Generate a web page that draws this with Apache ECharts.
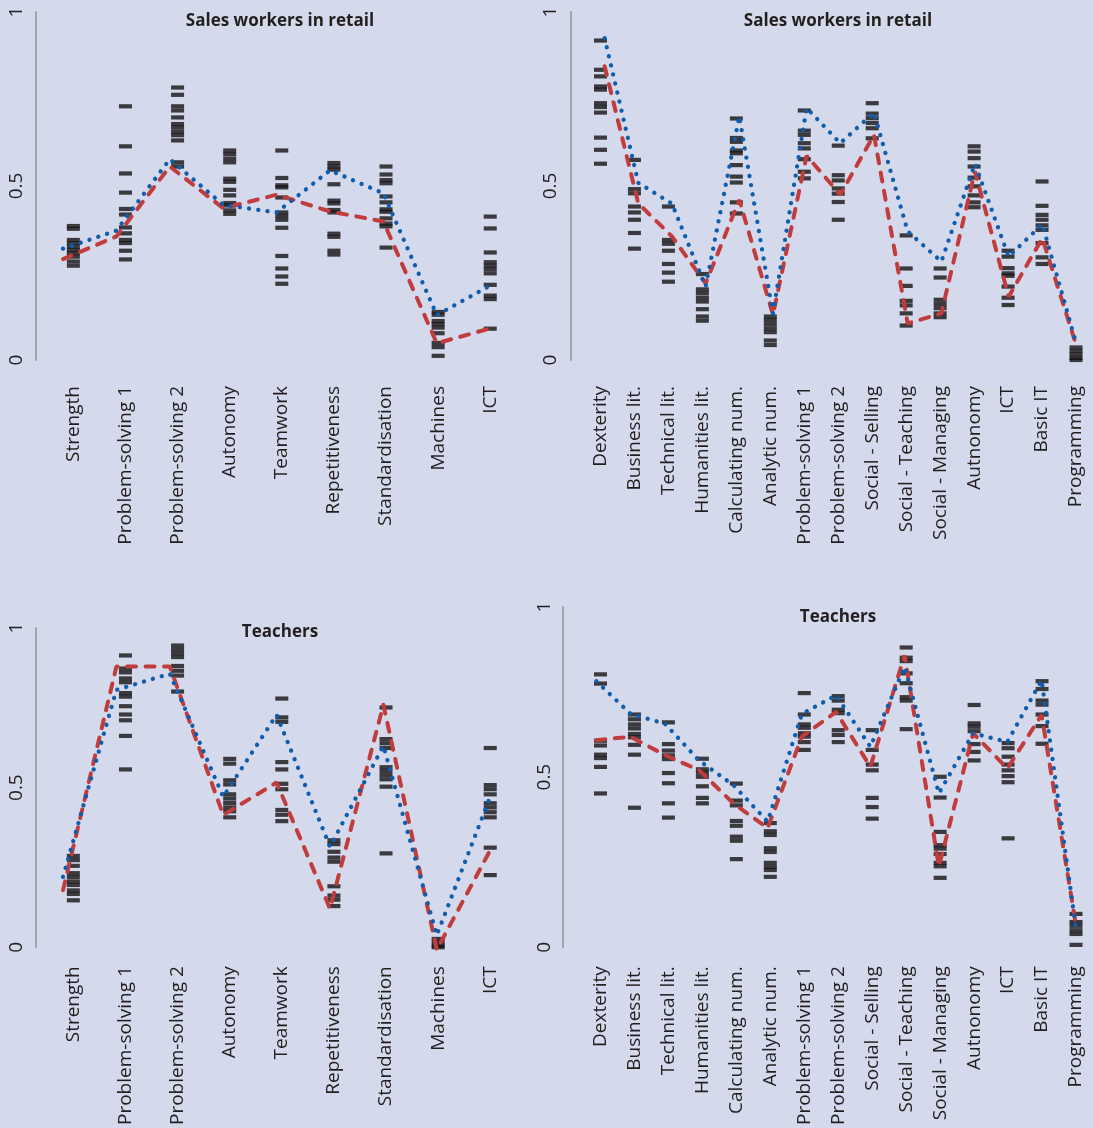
<!DOCTYPE html>
<html>
<head>
<meta charset="utf-8">
<script src="https://cdn.jsdelivr.net/npm/echarts@6/dist/echarts.min.js"></script>
<style>
html,body{margin:0;padding:0;background:#d4d9eb;}
#c{width:1093px;height:1128px;}
</style>
</head>
<body>
<div id="c"></div>
<script>
// ---------- DATA ----------
const catsShort = ['Strength','Problem-solving 1','Problem-solving 2','Autonomy','Teamwork','Repetitiveness','Standardisation','Machines','ICT'];
const catsLong = ['Dexterity','Business lit.','Technical lit.','Humanities lit.','Calculating num.','Analytic num.','Problem-solving 1','Problem-solving 2','Social - Selling','Social - Teaching','Social - Managing','Autnonomy','ICT','Basic IT','Programming'];
const yTicks = [0, 0.5, 1];

const titleSales = 'Sales workers in retail';
const titleTeach = 'Teachers';

// Panel 1: Sales workers, short task list
const salesShortBlue = [0.32, 0.372, 0.577, 0.446, 0.424, 0.545, 0.479, 0.129, 0.214];
const salesShortRed  = [0.29, 0.355, 0.556, 0.436, 0.475, 0.427, 0.398, 0.048, 0.091];
const salesShortCountries = [
  [0.385,0.377,0.345,0.336,0.326,0.316,0.307,0.297,0.283,0.271],
  [0.729,0.614,0.536,0.481,0.434,0.418,0.381,0.364,0.345,0.336,0.314,0.289],
  [0.783,0.762,0.729,0.717,0.697,0.678,0.668,0.656,0.646,0.631,0.568,0.556],
  [0.602,0.592,0.579,0.568,0.521,0.512,0.489,0.473,0.451,0.444,0.430,0.420],
  [0.602,0.523,0.502,0.496,0.467,0.424,0.414,0.403,0.380,0.299,0.263,0.240,0.219],
  [0.566,0.556,0.547,0.505,0.458,0.450,0.431,0.424,0.363,0.354,0.314,0.303],
  [0.556,0.533,0.517,0.508,0.470,0.453,0.433,0.426,0.407,0.392,0.384,0.323],
  [0.138,0.130,0.112,0.103,0.093,0.077,0.049,0.037,0.012],
  [0.412,0.378,0.309,0.281,0.271,0.261,0.249,0.216,0.185,0.175,0.090]
];

// Panel 2: Sales workers, long task list
const salesLongBlue = [0.925,0.509,0.449,0.211,0.700,0.134,0.724,0.623,0.711,0.370,0.283,0.564,0.297,0.390,0.050];
const salesLongRed  = [0.844,0.450,0.355,0.220,0.460,0.130,0.587,0.475,0.647,0.105,0.134,0.542,0.182,0.350,0.045];
const salesLongCountries = [
  [0.918,0.834,0.815,0.786,0.777,0.738,0.727,0.711,0.639,0.604,0.564],
  [0.575,0.491,0.479,0.441,0.424,0.403,0.365,0.320],
  [0.441,0.345,0.334,0.314,0.276,0.251,0.225],
  [0.247,0.203,0.192,0.179,0.168,0.146,0.125,0.113],
  [0.694,0.638,0.627,0.602,0.594,0.560,0.527,0.510,0.453,0.421],
  [0.125,0.115,0.103,0.091,0.080,0.056,0.043],
  [0.717,0.659,0.647,0.623,0.608,0.577,0.541,0.522],
  [0.616,0.531,0.516,0.493,0.478,0.454,0.403],
  [0.738,0.708,0.695,0.681,0.666,0.637],
  [0.358,0.263,0.213,0.170,0.157,0.134,0.099],
  [0.263,0.237,0.173,0.161,0.149,0.134,0.123],
  [0.614,0.599,0.580,0.556,0.524,0.499,0.473,0.453,0.439],
  [0.314,0.297,0.264,0.249,0.242,0.211,0.179,0.158],
  [0.513,0.443,0.417,0.403,0.387,0.374,0.336,0.295,0.276],
  [0.036,0.026,0.016,0.006,0.0]
];

// Panel 3: Teachers, short task list
const teachShortBlue = [0.232, 0.809, 0.859, 0.479, 0.732, 0.325, 0.636, 0.052, 0.479];
const teachShortRed  = [0.191, 0.881, 0.881, 0.423, 0.523, 0.134, 0.763, 0.007, 0.314];
const teachShortCountries = [
  [0.286,0.273,0.255,0.232,0.220,0.206,0.195,0.178,0.167,0.147],
  [0.914,0.873,0.861,0.842,0.830,0.796,0.785,0.755,0.729,0.711,0.662,0.557],
  [0.945,0.933,0.921,0.909,0.881,0.866,0.851,0.801],
  [0.590,0.575,0.523,0.510,0.479,0.466,0.452,0.438,0.426,0.407],
  [0.779,0.720,0.706,0.580,0.557,0.512,0.495,0.430,0.415,0.395],
  [0.335,0.323,0.299,0.281,0.268,0.191,0.162,0.149,0.129],
  [0.751,0.652,0.639,0.624,0.564,0.552,0.539,0.526,0.503,0.294],
  [0.026,0.015,0.005,0.0],
  [0.624,0.508,0.495,0.479,0.451,0.438,0.423,0.407,0.312,0.226]
];

// Panel 4: Teachers, long task list
const teachLongBlue = [0.785,0.690,0.662,0.555,0.484,0.378,0.690,0.744,0.595,0.826,0.460,0.634,0.609,0.788,0.070];
const teachLongRed  = [0.614,0.624,0.571,0.527,0.431,0.359,0.624,0.696,0.537,0.860,0.248,0.634,0.532,0.687,0.080];
const teachLongCountries = [
  [0.802,0.775,0.607,0.593,0.566,0.556,0.530,0.452],
  [0.684,0.670,0.655,0.643,0.627,0.617,0.595,0.566,0.410],
  [0.661,0.597,0.578,0.564,0.553,0.512,0.482,0.423,0.381],
  [0.554,0.523,0.513,0.501,0.473,0.439,0.423],
  [0.481,0.431,0.417,0.371,0.357,0.325,0.313,0.259],
  [0.365,0.341,0.330,0.291,0.280,0.248,0.236,0.227,0.207],
  [0.747,0.684,0.655,0.645,0.629,0.619,0.603,0.580],
  [0.738,0.725,0.698,0.688,0.638,0.624,0.603],
  [0.638,0.580,0.537,0.520,0.439,0.412,0.378],
  [0.881,0.851,0.841,0.805,0.776,0.735,0.725,0.641],
  [0.501,0.440,0.339,0.300,0.290,0.274,0.248,0.238,0.204],
  [0.712,0.658,0.648,0.635,0.597,0.574,0.549],
  [0.600,0.585,0.560,0.537,0.520,0.503,0.485,0.320],
  [0.782,0.759,0.725,0.713,0.684,0.650,0.598],
  [0.098,0.074,0.063,0.050,0.039,0.007]
];

// ---------- STYLE / LAYOUT ----------
const FONT = '"Open Sans", "Noto Sans", sans-serif';
const TXT = '#231f20';
const BLUE = '#0f5dac';
const RED = '#c13d3d';
const LABEL_SIZE = 19;

const panels = [
  {cats: catsShort, blue: salesShortBlue, red: salesShortRed, dots: salesShortCountries, title: titleSales,
   top: 12, height: 348, dotBox: [47.3, 469], lineBox: [36.3, 480.6], axisX: 36.2, xMargin: 26, yGap: 10, titlePos: [280, 13]},
  {cats: catsLong, blue: salesLongBlue, red: salesLongRed, dots: salesLongCountries, title: titleSales,
   top: 12, height: 348, dotBox: [583.5, 515], lineBox: [587.8, 505], axisX: 570.7, xMargin: 26, yGap: 11, titlePos: [838, 13]},
  {cats: catsShort, blue: teachShortBlue, red: teachShortRed, dots: teachShortCountries, title: titleTeach,
   top: 628, height: 324, dotBox: [47.3, 469], lineBox: [36.3, 480.6], axisX: 36.2, xMargin: 19, yGap: 10, titlePos: [280, 624]},
  {cats: catsLong, blue: teachLongBlue, red: teachLongRed, dots: teachLongCountries, title: titleTeach,
   top: 607, height: 345, dotBox: [583.5, 515], lineBox: [579.2, 516], axisX: 562.6, xMargin: 19, yGap: 9, titlePos: [838, 609]}
];

const option = {
  backgroundColor: '#d4d9eb',
  animation: false,
  title: [], grid: [], xAxis: [], yAxis: [], series: []
};

panels.forEach((p, i) => {
  option.title.push({
    text: p.title, left: p.titlePos[0], top: p.titlePos[1], textAlign: 'center', padding: 0,
    textStyle: {fontFamily: FONT, fontSize: 17, fontWeight: 'bold', color: TXT}
  });
  const gDots = option.grid.length;
  option.grid.push({left: p.dotBox[0], width: p.dotBox[1], top: p.top, height: p.height});
  const gLines = option.grid.length;
  option.grid.push({left: p.lineBox[0], width: p.lineBox[1], top: p.top, height: p.height});

  // country-dash axes, with visible labels
  const xa = option.xAxis.length;
  option.xAxis.push({
    type: 'category', gridIndex: gDots, data: p.cats,
    axisLine: {show: false}, axisTick: {show: false}, splitLine: {show: false},
    axisLabel: {rotate: 90, interval: 0, margin: p.xMargin, fontFamily: FONT, fontSize: LABEL_SIZE, color: TXT}
  });
  const ya = option.yAxis.length;
  option.yAxis.push({
    type: 'value', gridIndex: gDots, min: yTicks[0], max: yTicks[yTicks.length - 1], interval: 0.5,
    offset: p.dotBox[0] - p.axisX,
    axisLine: {show: true, lineStyle: {color: '#a3a4ab', width: 2}},
    axisTick: {show: false}, splitLine: {show: false},
    axisLabel: {rotate: 90, margin: p.yGap, fontFamily: FONT, fontSize: LABEL_SIZE, color: TXT}
  });
  // average-line axes, hidden
  const xb = option.xAxis.length;
  option.xAxis.push({type: 'category', gridIndex: gLines, data: p.cats, show: false});
  const yb = option.yAxis.length;
  option.yAxis.push({type: 'value', gridIndex: gLines, min: yTicks[0], max: yTicks[yTicks.length - 1], show: false});

  const pts = [];
  p.dots.forEach((arr, ci) => arr.forEach(v => pts.push([ci, v])));
  option.series.push({
    type: 'scatter', xAxisIndex: xa, yAxisIndex: ya, data: pts,
    symbol: 'rect', symbolSize: [13, 4.2], itemStyle: {color: '#141213'}, z: 2, silent: true
  });
  option.series.push({
    type: 'line', xAxisIndex: xb, yAxisIndex: yb, data: p.red, symbol: 'none', showSymbol: false,
    lineStyle: {color: RED, width: 4, type: [9, 9.5], cap: 'round'}, z: 3, silent: true
  });
  option.series.push({
    type: 'line', xAxisIndex: xb, yAxisIndex: yb, data: p.blue, symbol: 'none', showSymbol: false,
    lineStyle: {color: BLUE, width: 4.3, type: [0.1, 9.2], cap: 'round'}, z: 4, silent: true
  });
});

const chart = echarts.init(document.getElementById('c'), null, {renderer: 'canvas'});
chart.setOption(option);
</script>
</body>
</html>
